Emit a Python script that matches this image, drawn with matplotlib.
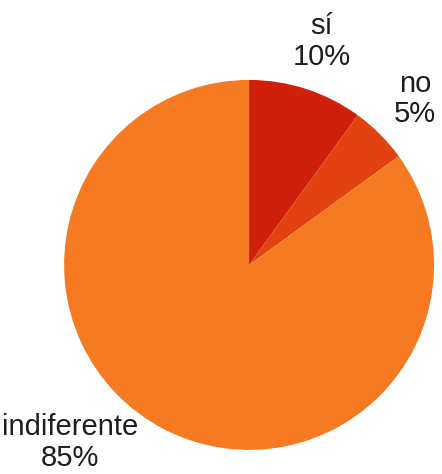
import matplotlib.pyplot as plt

plt.rcParams['font.family'] = ['Liberation Sans Narrow', 'Liberation Sans', 'DejaVu Sans']

categories = ['sí', 'no', 'indiferente']
percent = [10, 5, 85]
colors = ['#d0200b', '#e2420f', '#f57a22']

fig = plt.figure(figsize=(4.42, 4.74), dpi=100)
ax = fig.add_axes([0.145, 0.0506, 0.837, 0.781])

labels = [f'{c}\n{p}%' for c, p in zip(categories, percent)]
wedges, texts = ax.pie(percent, labels=labels, colors=colors, startangle=90,
                       counterclock=False, labeldistance=1.27,
                       textprops=dict(fontsize=21, color='#1e1e1e', ha='center',
                                      va='center', linespacing=1.1))
for t in texts:
    t.set_ha('center')
# the big slice's label sits at the lower left, not on the bisector
texts[2].set_position((-0.97, -0.96))
ax.set_xlim(-1, 1)
ax.set_ylim(-1, 1)
ax.set_aspect('equal')

plt.savefig('out.png', dpi=100)
